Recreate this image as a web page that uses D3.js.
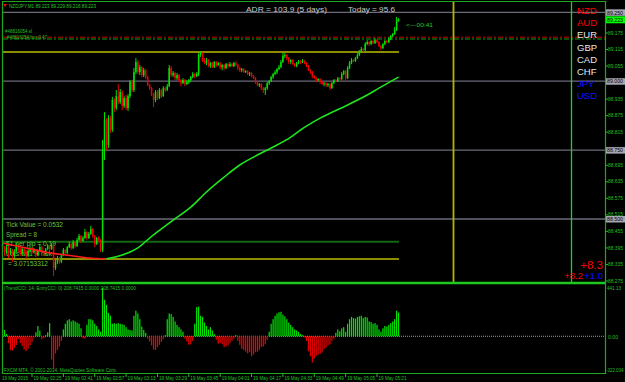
<!DOCTYPE html>
<html>
<head>
<meta charset="utf-8">
<script src="https://cdn.jsdelivr.net/npm/d3@7/dist/d3.min.js"></script>
<style>
  body { margin: 0; background: #000; }
  svg { display: block; }
  text { font-family: "Liberation Sans", Arial, sans-serif; }
</style>
</head>
<body>
<svg width="625" height="382"></svg>
<script>
// ---- data ----
var symbol = "NZDJPY,M1";
var firstBar = 130;            // first bar time, minutes after 00:00 (02:10)

var open = [88.409,88.395,88.380,88.398,88.377,88.388,88.366,88.384,88.402,88.388,
 88.373,88.391,88.380,88.366,88.384,88.395,88.380,88.388,88.369,88.384,
 88.398,88.384,88.373,88.391,88.402,88.391,88.406,88.322,88.344,88.358,
 88.344,88.369,88.388,88.377,88.398,88.409,88.395,88.417,88.402,88.424,
 88.438,88.420,88.431,88.453,88.431,88.446,88.464,88.438,88.409,88.431,
 88.424,88.388,88.750,88.859,88.768,88.866,88.823,88.932,88.903,88.946,
 88.924,88.961,88.910,88.939,88.903,88.946,88.997,88.968,89.033,89.070,
 89.033,89.051,89.022,89.040,89.015,88.986,88.975,88.950,88.932,88.961,
 88.939,88.968,88.946,88.975,88.968,88.982,89.048,89.022,89.030,89.011,
 89.022,89.004,88.993,89.004,88.990,88.997,89.004,89.015,89.026,89.019,
 89.026,89.095,89.102,89.077,89.066,89.077,89.055,89.066,89.051,89.070,
 89.059,89.066,89.051,89.059,89.048,89.062,89.055,89.062,89.055,89.066,
 89.059,89.048,89.040,89.044,89.033,89.037,89.026,89.030,89.019,89.011,
 88.997,88.986,88.990,88.975,88.968,88.975,88.993,89.001,89.015,89.026,
 89.033,89.044,89.051,89.070,89.091,89.095,89.084,89.070,89.077,89.062,
 89.055,89.066,89.073,89.070,89.073,89.066,89.055,89.040,89.033,89.019,
 89.011,89.004,89.008,88.997,88.990,88.993,88.986,88.990,88.975,88.993,
 89.004,89.001,89.011,89.008,89.026,89.037,89.011,89.048,89.066,89.077,
 89.073,89.084,89.095,89.106,89.117,89.113,89.135,89.142,89.135,89.146,
 89.138,89.149,89.142,89.128,89.120,89.135,89.146,89.142,89.153,89.164,
 89.171,89.186,89.223];

var high = [88.417,88.402,88.406,88.402,88.395,88.391,88.391,88.413,88.406,88.395,
 88.398,88.395,88.388,88.391,88.402,88.398,88.395,88.391,88.388,88.409,
 88.402,88.388,88.395,88.409,88.406,88.413,88.409,88.351,88.366,88.362,
 88.373,88.395,88.391,88.402,88.417,88.413,88.424,88.420,88.431,88.446,
 88.442,88.438,88.464,88.456,88.453,88.475,88.467,88.442,88.435,88.438,
 88.427,88.787,88.888,88.866,88.877,88.874,88.943,88.939,88.968,88.990,
 88.972,88.968,88.946,88.950,88.953,89.004,89.004,89.048,89.084,89.077,
 89.059,89.055,89.048,89.044,89.019,88.990,88.979,88.957,88.968,88.968,
 88.975,88.972,88.982,88.979,88.990,89.059,89.055,89.037,89.033,89.030,
 89.026,89.008,89.011,89.008,89.004,89.008,89.019,89.033,89.030,89.033,
 89.102,89.109,89.106,89.084,89.084,89.080,89.070,89.070,89.073,89.073,
 89.070,89.070,89.062,89.062,89.066,89.066,89.070,89.066,89.070,89.073,
 89.062,89.051,89.048,89.048,89.040,89.040,89.033,89.033,89.022,89.015,
 89.001,88.993,88.993,88.979,88.979,88.997,89.004,89.019,89.030,89.040,
 89.048,89.059,89.077,89.102,89.102,89.099,89.088,89.080,89.080,89.066,
 89.070,89.077,89.077,89.080,89.077,89.070,89.059,89.044,89.037,89.022,
 89.015,89.011,89.011,89.001,88.997,88.997,88.993,88.993,88.997,89.008,
 89.008,89.015,89.015,89.033,89.040,89.040,89.055,89.073,89.084,89.080,
 89.088,89.102,89.113,89.124,89.120,89.142,89.149,89.146,89.149,89.149,
 89.157,89.153,89.146,89.131,89.138,89.149,89.149,89.160,89.168,89.175,
 89.197,89.233,89.229];

var low = [88.388,88.366,88.373,88.358,88.369,88.344,88.358,88.380,88.380,88.366,
 88.369,88.373,88.355,88.362,88.380,88.373,88.377,88.362,88.366,88.380,
 88.377,88.366,88.369,88.388,88.384,88.388,88.293,88.315,88.337,88.337,
 88.340,88.366,88.369,88.373,88.395,88.388,88.391,88.395,88.398,88.420,
 88.413,88.417,88.427,88.424,88.427,88.442,88.431,88.398,88.406,88.417,
 88.380,88.380,88.714,88.750,88.758,88.812,88.816,88.888,88.895,88.917,
 88.917,88.895,88.903,88.895,88.892,88.939,88.961,88.961,89.026,89.026,
 89.022,89.015,89.015,89.008,88.982,88.968,88.946,88.906,88.924,88.932,
 88.935,88.939,88.943,88.961,88.964,88.979,89.015,89.015,89.004,89.004,
 88.997,88.982,88.990,88.982,88.986,88.990,88.997,89.011,89.011,89.015,
 89.019,89.088,89.070,89.062,89.059,89.051,89.048,89.048,89.048,89.051,
 89.055,89.044,89.040,89.040,89.044,89.048,89.051,89.051,89.051,89.055,
 89.040,89.033,89.033,89.030,89.030,89.022,89.019,89.015,89.008,88.990,
 88.982,88.979,88.968,88.957,88.950,88.968,88.986,88.997,89.008,89.022,
 89.026,89.040,89.048,89.066,89.084,89.077,89.062,89.062,89.059,89.051,
 89.051,89.062,89.062,89.066,89.062,89.051,89.037,89.026,89.011,89.008,
 88.997,89.001,88.990,88.986,88.982,88.979,88.979,88.968,88.972,88.990,
 88.997,88.997,89.004,89.004,89.022,88.997,89.008,89.044,89.062,89.070,
 89.070,89.080,89.091,89.102,89.106,89.109,89.131,89.128,89.131,89.135,
 89.135,89.138,89.124,89.113,89.117,89.131,89.138,89.138,89.149,89.160,
 89.168,89.182,89.216];

var close = [88.395,88.380,88.398,88.377,88.388,88.366,88.384,88.402,88.388,88.373,
 88.391,88.380,88.366,88.384,88.395,88.380,88.388,88.369,88.384,88.398,
 88.384,88.373,88.391,88.402,88.391,88.406,88.322,88.344,88.358,88.344,
 88.369,88.388,88.377,88.398,88.409,88.395,88.417,88.402,88.424,88.438,
 88.420,88.431,88.453,88.431,88.446,88.464,88.438,88.409,88.431,88.424,
 88.388,88.750,88.859,88.768,88.866,88.823,88.932,88.903,88.946,88.924,
 88.961,88.910,88.939,88.903,88.946,88.997,88.968,89.033,89.070,89.033,
 89.051,89.022,89.040,89.015,88.986,88.975,88.950,88.932,88.961,88.939,
 88.968,88.946,88.975,88.968,88.982,89.048,89.022,89.030,89.011,89.022,
 89.004,88.993,89.004,88.990,88.997,89.004,89.015,89.026,89.019,89.026,
 89.095,89.102,89.077,89.066,89.077,89.055,89.066,89.051,89.070,89.059,
 89.066,89.051,89.059,89.048,89.062,89.055,89.062,89.055,89.066,89.059,
 89.048,89.040,89.044,89.033,89.037,89.026,89.030,89.019,89.011,88.997,
 88.986,88.990,88.975,88.968,88.975,88.993,89.001,89.015,89.026,89.033,
 89.044,89.051,89.070,89.091,89.095,89.084,89.070,89.077,89.062,89.055,
 89.066,89.073,89.070,89.073,89.066,89.055,89.040,89.033,89.019,89.011,
 89.004,89.008,88.997,88.990,88.993,88.986,88.990,88.975,88.993,89.004,
 89.001,89.011,89.008,89.026,89.037,89.011,89.048,89.066,89.077,89.073,
 89.084,89.095,89.106,89.117,89.113,89.135,89.142,89.135,89.146,89.138,
 89.149,89.142,89.128,89.120,89.135,89.146,89.142,89.153,89.164,89.171,
 89.186,89.223,89.223];

// moving average, sampled at bar indexes
var maIdx = [0, 12, 24, 36, 45, 50, 53, 55, 61, 69, 75, 81, 87, 96, 104, 113, 121, 130, 138, 147, 152, 162, 176, 186, 192, 202];
var maVal = [88.413, 88.395, 88.377, 88.366, 88.358, 88.356, 88.356, 88.358, 88.369, 88.395, 88.431, 88.464, 88.496, 88.543, 88.598, 88.652, 88.696, 88.732, 88.761, 88.797, 88.823, 88.866, 88.914, 88.950, 88.975, 89.015];
var maTurn = 53;               // index where the MA stops falling

// TrendCCI histogram
var cci = [117,55,20,-60,-120,-125,-100,-75,-25,-60,
 -85,-115,-130,-110,-80,-50,-10,35,90,50,
 -25,-15,10,35,115,-205,-285,-150,-120,-90,
 -40,60,110,140,150,130,140,130,120,110,
 70,-15,-20,100,150,150,140,110,90,60,
 40,425,320,275,205,180,110,115,110,115,
 110,105,100,80,60,55,50,180,225,200,
 150,85,55,30,-20,-45,-80,-115,-120,-95,
 -75,-50,-25,10,150,200,195,170,130,100,
 80,60,40,-20,-45,-75,-70,-40,110,255,
 260,180,170,120,90,60,80,50,20,-30,
 -65,-60,-70,-95,-90,-80,-60,-40,-20,10,
 -40,-75,-110,-120,-135,-150,-140,-175,-160,-140,
 -135,-120,-95,-90,-70,-30,40,110,150,180,
 200,210,215,190,175,150,120,100,80,60,
 50,40,20,10,-10,-40,-130,-175,-230,-195,
 -170,-160,-155,-140,-110,-100,-80,-70,-40,-20,
 30,60,45,70,80,40,110,150,170,160,
 155,170,175,180,160,170,165,130,125,110,
 115,100,60,40,70,90,85,100,115,130,
 150,225,208.74];
var cciMax = 441.13, cciMin = -322.034;

// price axis
var priceTicks = [89.175, 89.115, 89.055, 88.935, 88.875, 88.815, 88.695, 88.635, 88.575, 88.515, 88.455, 88.395, 88.335, 88.275];
var levelLines = [89.25, 89.0, 88.75, 88.5];
var dayHigh = 89.106, dayLow = 88.355, openLevel = 88.417;
var orderSL = 89.160, orderEntry = 89.153;

// time axis
var dateLabel = "19 May 2015";
var timeTicks = ["02:25", "02:41", "02:57", "03:13", "03:29", "03:45", "04:01", "04:17", "04:33", "04:49", "05:05", "05:21"];

// panel texts
var adr = 103.9, adrDays = 5, todayRange = 95.6;
var tickValue = "0.0532", spread = 8, perPip = 0.19, lots = "3.07153312";
var currencies = ["NZD", "AUD", "EUR", "GBP", "CAD", "CHF", "JPY", "USD"];
var strength = 8.3, baseStrength = 8.2, quoteStrength = 1.0;
var cciParams = "(TrendCCI: 14, EntryCCI: 0)  208.7415 0.0000 208.7415 0.0000";
var countdown = "<---00:41";

// ---- drawing ----
var svg = d3.select("svg");
svg.append("rect").attr("width", 625).attr("height", 382).attr("fill", "#000");

var left = 3, right = 605, mainBottom = 282;

var x = d3.scaleLinear().domain([145, 321]).range([32, 377]);
function bx(i) { return x(firstBar + i); }
var y = d3.scaleLinear().domain([88.275, 89.175]).range([281, 33]);
var yc = d3.scaleLinear().domain([cciMin, cciMax]).range([373, 286]);

var fmt3 = d3.format(".3f");

function label(px, py, str, size, color, len, family) {
  var t = svg.append("text")
      .attr("x", px)
      .attr("y", py)
      .attr("font-size", size)
      .attr("fill", color)
      .text(str);
  if (family) t.attr("font-family", family);
  if (len) t.attr("textLength", len).attr("lengthAdjust", "spacingAndGlyphs");
  return t;
}

function hline(yy, x1, x2, color, w, dash) {
  var l = svg.append("line")
      .attr("x1", x1).attr("x2", x2)
      .attr("y1", yy).attr("y2", yy)
      .attr("stroke", color)
      .attr("stroke-width", w);
  if (dash) l.attr("stroke-dasharray", dash);
  return l;
}

// level lines (grey)
levelLines.forEach(function(p) {
  hline(y(p), left, right, "#6b6b7c", 1.3);
});

// order lines (dash-dot)
hline(y(orderSL), left, right, "#8a0000", 1.5, "5,2,2,2");
hline(y(orderEntry), left, right, "#0b6a0b", 1.5, "5,2,2,2");
label(5, 33, "#48816054 sl", 4.5, "#22c022", 27);
label(7, 38.5, "#48816054 buy 0.47", 4.5, "#22c022", 40);

// day high / low and open level
hline(y(dayHigh), left, 399, "#bcbc00", 1.5);
hline(y(dayLow), left, 399, "#bcbc00", 1.5);
hline(y(openLevel), left, 399, "#136613", 2);

// info texts (behind the bars)
var infoColor = "#6cc23a";
label(6, 227, "Tick Value = " + tickValue, 6.5, infoColor, 57);
label(6, 236.5, "Spread = " + spread, 6.5, infoColor, 31);
label(6, 246, "$1 per pip = " + perPip, 6.5, infoColor, 50);
label(6, 256, "Lots at 1% risk", 6.5, infoColor, 46);
label(8, 265.5, "= " + lots, 6.5, infoColor, 40);

// candles
var idx = d3.range(close.length);
var bars = svg.append("g");
bars.selectAll("line")
    .data(idx)
  .enter().append("line")
    .attr("x1", function(i) { return bx(i); })
    .attr("x2", function(i) { return bx(i); })
    .attr("y1", function(i) { return y(high[i]); })
    .attr("y2", function(i) { return y(low[i]); })
    .attr("stroke", function(i) { return close[i] >= open[i] ? "#00e400" : "#f00000"; })
    .attr("stroke-width", 1);
bars.selectAll("rect")
    .data(idx)
  .enter().append("rect")
    .attr("x", function(i) { return bx(i) - 0.75; })
    .attr("width", 1.5)
    .attr("y", function(i) { return y(Math.max(open[i], close[i])); })
    .attr("height", function(i) { return Math.max(1, Math.abs(y(open[i]) - y(close[i]))); })
    .attr("fill", function(i) { return close[i] >= open[i] ? "#00e400" : "#f00000"; });

// moving average, red while falling then green
var maPts = maIdx.map(function(d, k) { return [bx(d), y(maVal[k])]; });
var maLine = d3.line().curve(d3.curveMonotoneX);
var turnK = maIdx.indexOf(maTurn);
svg.append("path")
    .attr("d", maLine(maPts.slice(0, turnK + 1)))
    .attr("fill", "none").attr("stroke", "#ff1a1a").attr("stroke-width", 1.6);
svg.append("path")
    .attr("d", maLine(maPts.slice(turnK)))
    .attr("fill", "none").attr("stroke", "#1ee61e").attr("stroke-width", 1.6);

// vertical lines
svg.append("line").attr("x1", 453.5).attr("x2", 453.5).attr("y1", 2).attr("y2", mainBottom)
    .attr("stroke", "#b4b400").attr("stroke-width", 1.8);
svg.append("line").attr("x1", 571.5).attr("x2", 571.5).attr("y1", 2).attr("y2", mainBottom)
    .attr("stroke", "#1ed21e").attr("stroke-width", 1.3);

// header
svg.append("path").attr("d", "M3,4 L7,4 L5,7 Z").attr("fill", "#ff0000");
var last = close.length - 1;
label(9, 7.5, symbol + "  " + [open[last], high[last], low[last], close[last]].map(fmt3).join(" "),
      6, "#22c822", 87);
label(246, 12, "ADR = " + adr + "  (" + adrDays + " days)", 7, "#c8c8c8", 81, "Liberation Mono");
label(348, 12, "Today = " + todayRange, 7, "#c8c8c8", 47, "Liberation Mono");
label(406, 27, countdown, 6, "#22c822", 27);

// currency legend
var curColor = { NZD: "#ff0000", AUD: "#ff0000", JPY: "#1010ff", USD: "#1010ff" };
currencies.forEach(function(c, k) {
  label(577, 14 + k * 12.2, c, 9.5, curColor[c] || "#e6e6e6");
});
label(603, 268.5, "+" + strength.toFixed(1), 11.5, "#ff0000").attr("text-anchor", "end");
label(583, 279, "+" + baseStrength.toFixed(1), 9.5, "#ff0000").attr("text-anchor", "end");
label(603, 279, "+" + quoteStrength.toFixed(1), 9.5, "#1010ff").attr("text-anchor", "end");

// price axis
var axisGreen = "#22c022";
priceTicks.forEach(function(p) {
  hline(y(p), right, right + 3, axisGreen, 1);
  label(608, y(p) + 1.6, fmt3(p), 5, axisGreen, 15);
});
levelLines.forEach(function(p) {
  svg.append("rect").attr("x", 606).attr("y", y(p) - 3).attr("width", 19).attr("height", 6.5)
      .attr("fill", "#a6a6b4");
  label(607, y(p) + 2.2, fmt3(p), 5, "#000", 16);
});
svg.append("rect").attr("x", 606).attr("y", y(close[last]) - 3.5).attr("width", 19).attr("height", 7)
    .attr("fill", "#00ff00");
label(607, y(close[last]) + 2.3, fmt3(close[last]), 5.5, "#000", 16);

// ---- lower pane: TrendCCI ----
hline(yc(0), left, right, "#9a9a9a", 1, "1,1");
svg.append("g").selectAll("rect")
    .data(idx)
  .enter().append("rect")
    .attr("x", function(i) { return bx(i) - 0.6; })
    .attr("width", 1.2)
    .attr("y", function(i) { return Math.min(yc(0), yc(cci[i])); })
    .attr("height", function(i) { return Math.abs(yc(cci[i]) - yc(0)); })
    .attr("fill", function(i) { return cci[i] >= 0 ? "#00e400" : "#f00000"; });

label(4, 289.5, cciParams, 5, axisGreen, 132);
label(4, 371.5, "FXCM MT4, \u00a9 2001-2014, MetaQuotes Software Corp.", 5, axisGreen, 113);
label(607, 290, d3.format(".2f")(cciMax), 5.5, axisGreen, 14);
label(608, 338.5, "0.00", 5.5, axisGreen, 10);
label(606, 371.5, String(cciMin), 5, axisGreen, 17.5);

// ---- frame ----
hline(1.5, 2, right, "#1fa81f", 1.2);
svg.append("line").attr("x1", 2.5).attr("x2", 2.5).attr("y1", 1).attr("y2", 374)
    .attr("stroke", "#1fa81f").attr("stroke-width", 1.2);
svg.append("line").attr("x1", right + 0.5).attr("x2", right + 0.5).attr("y1", 1).attr("y2", 374)
    .attr("stroke", "#1fa81f").attr("stroke-width", 1.2);
hline(283, 2, right, "#1ec81e", 2.5);
hline(373.5, 2, right, "#1fa81f", 1.2);

// ---- time axis ----
label(2, 379.5, dateLabel, 5.5, axisGreen, 26);
timeTicks.forEach(function(t) {
  var m = +t.slice(0, 2) * 60 + +t.slice(3);
  svg.append("line").attr("x1", x(m)).attr("x2", x(m)).attr("y1", 373.5).attr("y2", 377)
      .attr("stroke", axisGreen).attr("stroke-width", 1);
  label(x(m) + 1.5, 379.5, "19 May " + t, 5.5, axisGreen, 28);
});
</script>
</body>
</html>
